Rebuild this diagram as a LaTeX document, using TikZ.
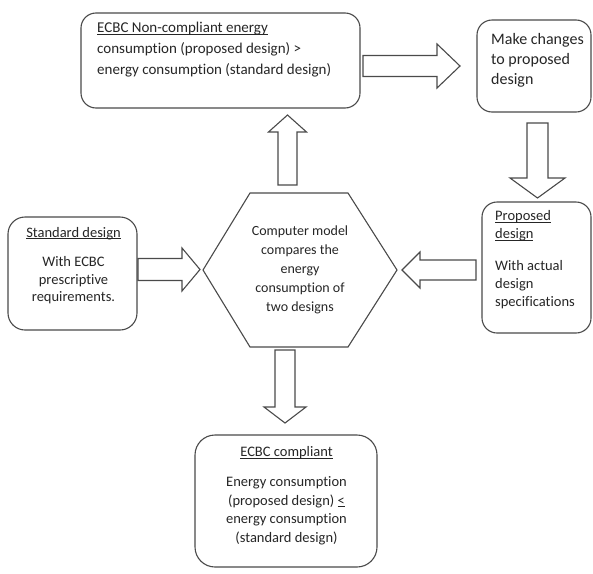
\documentclass[tikz,border=0pt]{standalone}
\usepackage{fontspec}
\setmainfont[Ligatures=NoCommon]{Carlito}
\definecolor{linec}{HTML}{4A4A4A}
\definecolor{txtc}{HTML}{262626}
\newcommand{\ul}[1]{\underline{\smash{#1}}}
\newcommand{\harr}[6]{\draw[barrow] (#1,#3-#4) -- ({#2-(#6)},#3-#4) -- ({#2-(#6)},#3-#5) -- (#2,#3) -- ({#2-(#6)},#3+#5) -- ({#2-(#6)},#3+#4) -- (#1,#3+#4) -- cycle;}
\newcommand{\varr}[6]{\draw[barrow] (#3-#4,#1) -- (#3-#4,{#2-(#6)}) -- (#3-#5,{#2-(#6)}) -- (#3,#2) -- (#3+#5,{#2-(#6)}) -- (#3+#4,{#2-(#6)}) -- (#3+#4,#1) -- cycle;}
\tikzset{
  box/.style={draw=linec, line width=1.1pt, rounded corners=15pt, inner sep=0pt},
  barrow/.style={draw=linec, line width=1.1pt, fill=white, line join=miter},
  txt/.style={text=txtc, inner sep=0pt, font=\fontsize{14.5}{19}\selectfont},
}
\begin{document}
\begin{tikzpicture}[x=1pt,y=-1pt]
\useasboundingbox (0,0) rectangle (593,573);
\fill[white] (0,0) rectangle (593,573);
% boxes
\node[box, minimum width=279pt, minimum height=95pt] (nc) at (220.5,60.5) {};
\node[box, minimum width=114pt, minimum height=92pt] (mk) at (534,66) {};
\node[box, minimum width=109pt, minimum height=131pt] (pr) at (536.5,267.5) {};
\node[box, minimum width=129pt, minimum height=113pt, rounded corners=17pt] (sd) at (72.5,273.5) {};
\node[box, minimum width=182pt, minimum height=132pt, rounded corners=20pt] (ec) at (286,501) {};
% hexagon
\draw[linec, line width=1.1pt, line join=miter] (203,270) -- (250,193) -- (348,193) -- (397,270) -- (348,347) -- (250,347) -- cycle;
\coordinate (hx) at (300,270);
% texts
\node[txt, anchor=west, align=left, font=\fontsize{15}{21}\selectfont] (nct) at (97,55)
  {\ul{ECBC Non-compliant energy}\\consumption (proposed design) >\\energy consumption (standard design)};
\node[txt, anchor=west, align=left, font=\fontsize{16}{20}\selectfont] (mkt) at (491,60)
  {Make changes\\to proposed\\design};
\node[txt, anchor=west, align=left, font=\fontsize{14.5}{18}\selectfont] (prt) at (495,265)
  {\ul{Proposed}\\\ul{design}\\[14pt]With actual\\design\\specifications};
\node[txt, align=center, font=\fontsize{14.5}{17.5}\selectfont] (sdt) at (73.5,270.5)
  {\ul{Standard design}\\[12pt]With ECBC\\prescriptive\\requirements.};
\node[txt, align=center, font=\fontsize{14}{19}\selectfont] (hxt) at (hx)
  {Computer model\\compares the\\energy\\consumption of\\two designs};
\node[txt, align=center, font=\fontsize{14.5}{18.5}\selectfont] (ect) at (286.5,500.5)
  {\ul{ECBC compliant}\\[11.5pt]Energy consumption\\(proposed design) \ul{<}\\energy consumption\\(standard design)};
% block arrows
\harr{363}{460}{66}{10.5}{22}{23}
\varr{123}{198}{537.5}{10.5}{27.5}{20}
\harr{476}{402}{270}{10}{18}{-18}
\harr{138}{200}{269.5}{11}{21.5}{18}
\varr{185}{115}{287.5}{9.5}{19}{-17}
\varr{350}{423}{285}{10}{21}{16}
\end{tikzpicture}
\end{document}
